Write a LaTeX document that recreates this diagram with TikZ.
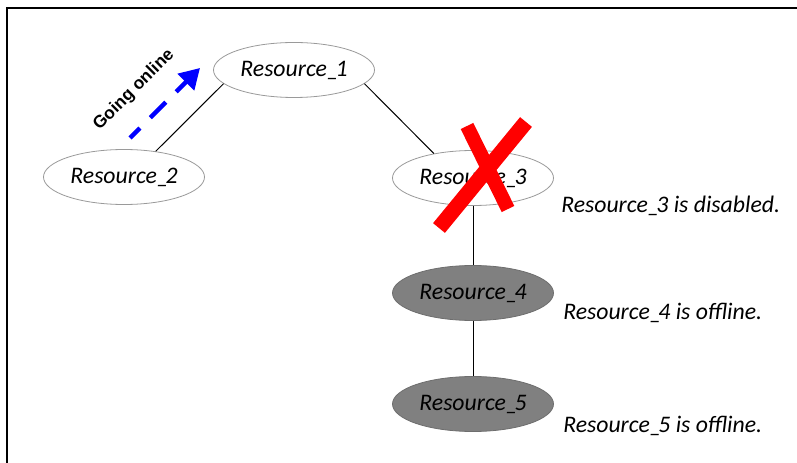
\documentclass[tikz,border=0pt]{standalone}
\usepackage{fontspec}
\setmainfont{Carlito}
\newfontfamily\labfont{Liberation Sans}
\usepackage{xcolor}
\usetikzlibrary{arrows.meta,calc,shapes.geometric}
\definecolor{rimline}{HTML}{9A9A9A}
\definecolor{offfill}{HTML}{808080}
\definecolor{offrim}{HTML}{6E6E6E}
\definecolor{golive}{HTML}{0000FF}
\definecolor{veto}{HTML}{FF0000}
\definecolor{ink}{HTML}{000000}
\newcommand{\resf}{\fontsize{17.8}{20}\selectfont\itshape}
\newcommand{\gof}{\labfont\fontsize{13}{15}\selectfont\bfseries}
\newcommand{\rsc}[1]{Resource\_\kern-0.14em#1}

\begin{document}
\begin{tikzpicture}[x=0.75pt, y=-0.75pt,
  text=ink, font=\resf,
  res/.style={ellipse, minimum width=120.75pt, minimum height=41.25pt, inner sep=0pt,
              draw=rimline, line width=0.6pt, fill=white},
  offres/.style={res, fill=offfill, draw=offrim},
  ln/.style={line width=0.75pt, draw=ink},
  note/.style={anchor=base west, inner sep=0pt},
  gol/.style={draw=golive, line width=3.2pt, dash pattern=on 16.5pt off 11pt, dash phase=6pt,
              -{Triangle[length=15pt, width=17pt]}},
  xx/.style={draw=veto, line width=11.5pt},
]
\useasboundingbox (0,0) rectangle (797,463);
% frame (top and left edge only)
\draw[line width=1pt, draw=ink] (797,8) -- (7,8) -- (7,463);

% ---------------- resources ----------------
\node[res] (r1) at (294,70) {\rsc{1}};
\node[res] (r2) at (124,177) {\rsc{2}};
\node[res] (r3) at (473,178) {\rsc{3}};
\node[offres] (r4) at (473,293) {\rsc{4}};
\node[offres] (r5) at (473,404) {\rsc{5}};
\draw[ln] (r2.39) -- (r1.191);
\draw[ln] (r1.-11) -- (r3.148);
\draw[ln] (r3) -- (r4);
\draw[ln] (r4) -- (r5);

% ---------------- state notes ----------------
\node[note] (s3) at (561,213) {\rsc{3} is disabled.};
\node[note] (s4) at (563,320) {\rsc{4} is offline.};
\node[note] (s5) at (563,433) {\rsc{5} is offline.};

% ---------------- going online ----------------
\coordinate (go0) at (130,138);
\coordinate (go1) at (200,68);
\draw[gol] (go0) -- (go1);
\node[font=\gof, rotate=45] (golbl) at (134,90) {Going online};

% red cross over the disabled resource
\draw[xx] ($(r3)+(-34,50)$) -- ($(r3)+(53,-56)$);
\draw[xx, line width=10.5pt] ($(r3)+(-6,-52)$) -- ($(r3)+(35,31)$);
\end{tikzpicture}
\end{document}
